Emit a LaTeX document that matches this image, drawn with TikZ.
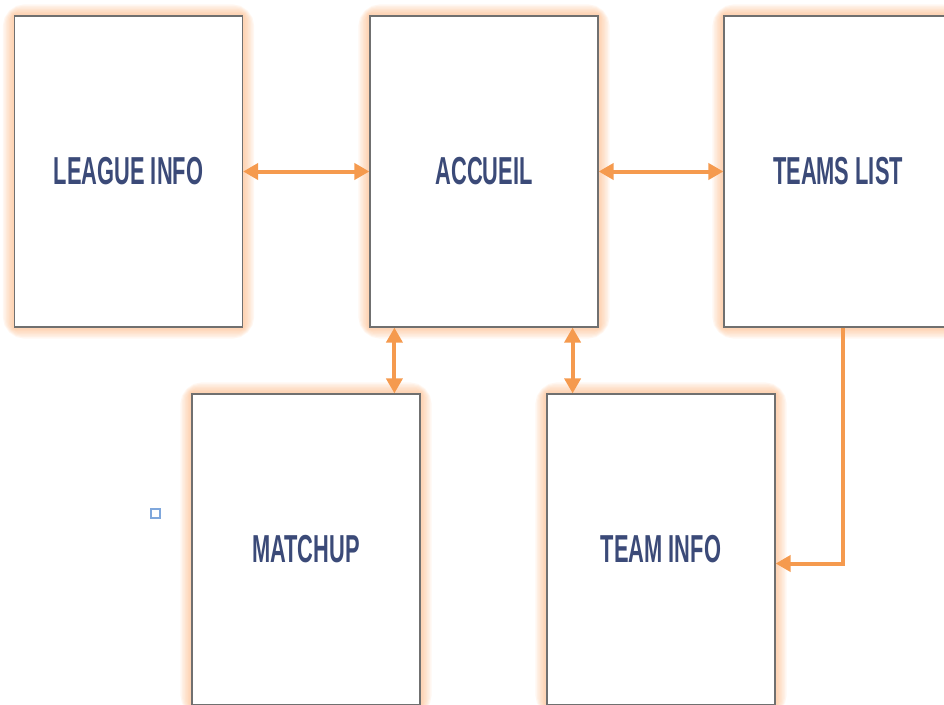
\documentclass[tikz,border=0pt]{standalone}
\usepackage{fontspec}
\setmainfont{Liberation Sans}
\usepackage{graphicx}
\usepackage{xcolor}
\usepackage{tikz}
\usetikzlibrary{arrows.meta, backgrounds}

\definecolor{pagenavy}{HTML}{3B4A78}
\definecolor{linkorange}{HTML}{F59A4E}
\definecolor{glow}{HTML}{FCA868}
\definecolor{frame}{HTML}{707070}
\definecolor{tinyblue}{HTML}{7FA7DC}

\newcommand{\narrow}[1]{\scalebox{0.56}[1]{#1}}

\begin{document}
\begin{tikzpicture}
[x=1pt, y=-1pt,
page/.style={rectangle, draw=frame, line width=1.2pt, fill=white, minimum width=228pt, minimum height=311pt, inner sep=0pt, text=pagenavy, font=\bfseries\fontsize{39}{39}\selectfont},
link/.style={draw=linkorange, line width=4pt, {Triangle[length=15pt,width=16pt]}-{Triangle[length=15pt,width=16pt]}},
oneway/.style={draw=linkorange, line width=4pt, -{Triangle[length=15pt,width=16pt]}},
]

\useasboundingbox (0,0) rectangle (944,704);
\clip (0,0) rectangle (944,704);

\node[page] (league)   at (128.5,171.5) {\narrow{LEAGUE INFO}};
\node[page] (accueil)  at (484,171.5)   {\narrow{ACCUEIL}};
\node[page] (teams)    at (838,171.5)   {\narrow{TEAMS LIST}};
\node[page] (matchup)  at (306,549.5)   {\narrow{MATCHUP}};
\node[page] (teaminfo) at (661,549.5)   {\narrow{TEAM INFO}};

% soft orange halo round each page
\begin{scope}[on background layer]
\foreach \n in {league, accueil, teams, matchup, teaminfo}
  \foreach \w in {22, 19, 16, 13, 10, 7, 4}
    \draw[glow, line width=\w pt, opacity=0.09, rounded corners=\w pt/2] (\n.north west) rectangle (\n.south east);
\end{scope}

\draw[link] (league) -- (accueil);
\draw[link] (accueil) -- (teams);
\draw[link] ([xshift=25pt]accueil.south west) -- ([xshift=25pt]accueil.south west |- matchup.north);
\draw[link] ([xshift=-26pt]accueil.south east) -- ([xshift=-26pt]accueil.south east |- teaminfo.north);
\draw[oneway] ([xshift=5pt]teams.south) |- ([yshift=-14pt]teaminfo.east);

\node[draw=tinyblue, line width=1.4pt, minimum size=9pt, inner sep=0pt] (marker) at (155.5,513.5) {};
\end{tikzpicture}
\end{document}
